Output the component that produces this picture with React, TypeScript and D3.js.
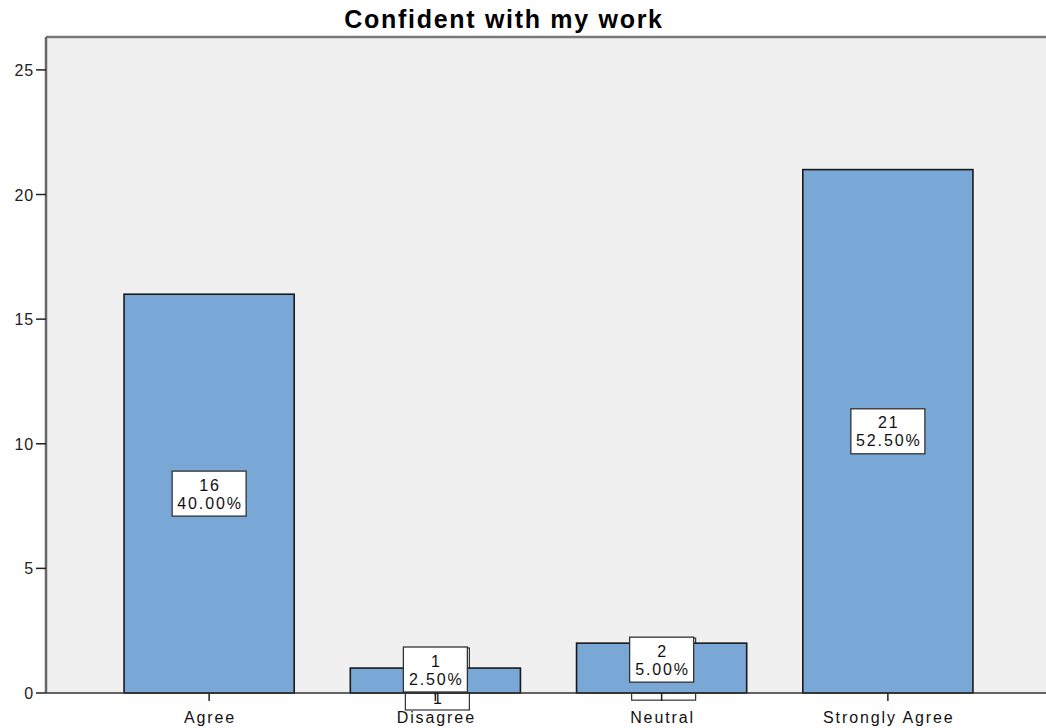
import React from "react";
import * as d3 from "d3";

const categories = ["Agree", "Disagree", "Neutral", "Strongly Agree"];
const counts = [16, 1, 2, 21];
const percents = ["40.00%", "2.50%", "5.00%", "52.50%"];
const yTicks = [0, 5, 10, 15, 20, 25];
const title = "Confident with my work";

const W = 1046;
const H = 728;
const left = 46;
const right = 1051;
const top = 37;
const bottom = 693;
const FONT = "'Liberation Sans', Arial, sans-serif";
const FS = 16;
const LS = 1.9;

export default function App() {
  const x = d3
    .scaleBand<string>()
    .domain(categories)
    .range([left, right])
    .paddingInner(0.248)
    .paddingOuter(0.345);
  const y = d3.scaleLinear().domain([0, 26.32]).range([bottom, top]);
  const bw = x.bandwidth();
  const boxH = 45;

  const boxes = categories.map((c, i) => {
    const cx = (x(c) as number) + bw / 2;
    const barH = y(0) - y(counts[i]);
    const small = barH < boxH + 15;
    const cy = small
      ? Math.min(y(counts[i]) + boxH / 2 - 6, y(0) - boxH / 2 - 1)
      : y(counts[i] / 2);
    const bW = small ? 64 : 74;
    return { c, i, cx, cy, small, bW };
  });

  const txt = (props: any, content: any) => (
    <text
      fontFamily={FONT}
      fontSize={FS}
      letterSpacing={LS}
      fill="#111"
      textAnchor="middle"
      {...props}
    >
      {content}
    </text>
  );

  return (
    <svg width={W} height={H} style={{ position: "absolute", left: 0, top: 0 }}>
      <rect x={0} y={0} width={W} height={H} fill="#ffffff" />
      <rect x={left} y={top} width={right - left} height={bottom - top} fill="#f0f0f0" />
      {/* back (duplicate) label boxes */}
      {boxes
        .filter((b) => b.small)
        .map((b) => {
          const t = b.cy - boxH / 2 + 1;
          const bot = b.cy + boxH / 2 + 18;
          return (
            <g key={"back" + b.c}>
              <rect
                x={b.cx - b.bW / 2 + 2}
                y={t}
                width={b.bW}
                height={bot - t}
                fill="#ffffff"
                stroke="#333"
                strokeWidth={1.2}
              />
              {txt({ x: b.cx + 2 + LS / 2, y: bot - 6 }, counts[b.i])}
            </g>
          );
        })}
      {/* bars */}
      {categories.map((c, i) => (
        <rect
          key={c}
          x={x(c)}
          y={y(counts[i])}
          width={bw}
          height={y(0) - y(counts[i])}
          fill="#79a8d6"
          stroke="#1a1a1a"
          strokeWidth={1.6}
        />
      ))}
      {/* frame lines */}
      <line x1={left} x2={right} y1={top} y2={top} stroke="#7a7a7a" strokeWidth={2.5} />
      <line x1={left} x2={left} y1={top} y2={bottom} stroke="#666" strokeWidth={2.5} />
      <line x1={left} x2={right} y1={bottom} y2={bottom} stroke="#333" strokeWidth={1.5} />
      {/* y ticks */}
      {yTicks.map((t) => (
        <g key={t}>
          <line x1={left - 10} x2={left} y1={y(t)} y2={y(t)} stroke="#222" strokeWidth={1.5} />
          {txt({ x: left - 12, y: y(t) + 6, textAnchor: "end", fill: "#222", letterSpacing: 0.8 }, t)}
        </g>
      ))}
      {/* x ticks */}
      {categories.map((c) => {
        const cx = (x(c) as number) + bw / 2;
        return (
          <line key={"xt" + c} x1={cx} x2={cx} y1={bottom} y2={bottom + 8} stroke="#222" strokeWidth={1.5} />
        );
      })}
      {/* front label boxes */}
      {boxes.map((b) => (
        <g key={"front" + b.c}>
          <rect
            x={b.cx - b.bW / 2}
            y={b.cy - boxH / 2}
            width={b.bW}
            height={boxH}
            fill="#ffffff"
            stroke="#333"
            strokeWidth={1.3}
          />
          {txt({ x: b.cx + LS / 2, y: b.cy - 3 }, counts[b.i])}
          {txt({ x: b.cx + LS / 2, y: b.cy + 15 }, percents[b.i])}
        </g>
      ))}
      {/* x labels */}
      {categories.map((c) => {
        const cx = (x(c) as number) + bw / 2;
        return <g key={"xl" + c}>{txt({ x: cx + LS / 2, y: bottom + 30 }, c)}</g>;
      })}
      <text
        x={504}
        y={28}
        textAnchor="middle"
        fontFamily={FONT}
        fontSize={25}
        letterSpacing={1.7}
        fontWeight="bold"
        fill="#000"
      >
        {title}
      </text>
    </svg>
  );
}
